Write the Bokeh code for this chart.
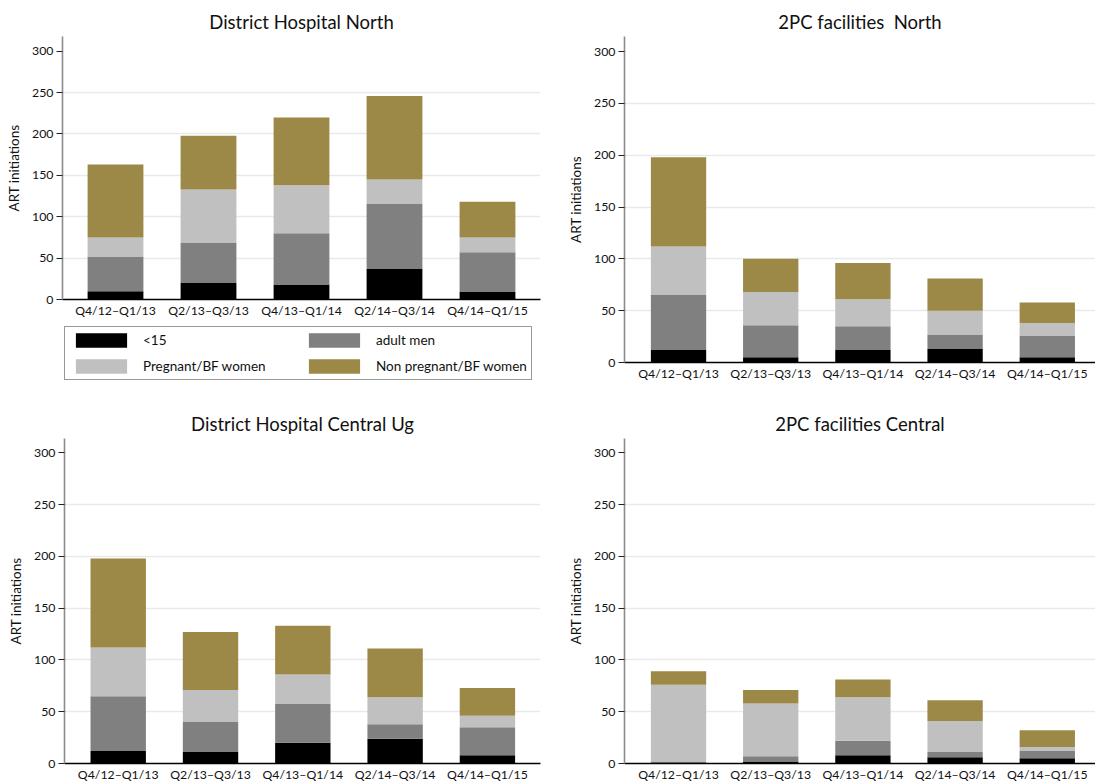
from bokeh.plotting import figure
from bokeh.models import ColumnDataSource, Range1d, FixedTicker, Legend, LegendItem
from bokeh.layouts import column, row
from bokeh.embed import file_html
from bokeh.resources import INLINE

# ---------------- data ----------------
periods = ["Q4/12\u2013Q1/13", "Q2/13\u2013Q3/13", "Q4/13\u2013Q1/14", "Q2/14\u2013Q3/14", "Q4/14\u2013Q1/15"]
groups = ["<15", "adult men", "Pregnant/BF women", "Non pregnant/BF women"]
colors = ["#000000", "#808080", "#c0c0c0", "#9c8847"]

y_ticks = [0, 50, 100, 150, 200, 250, 300]

# District Hospital North
dhn_u15 = [10, 20, 18, 37, 9]
dhn_men = [42, 49, 62, 79, 48]
dhn_preg = [23, 64, 58, 29, 18]
dhn_nonpreg = [88, 65, 82, 101, 43]

# 2PC facilities North
pcn_u15 = [12, 5, 12, 13, 5]
pcn_men = [53, 31, 23, 14, 21]
pcn_preg = [47, 32, 26, 23, 12]
pcn_nonpreg = [86, 32, 35, 31, 20]

# District Hospital Central Ug
dhc_u15 = [12, 11, 20, 24, 8]
dhc_men = [53, 29, 38, 14, 27]
dhc_preg = [47, 31, 28, 26, 11]
dhc_nonpreg = [86, 56, 47, 47, 27]

# 2PC facilities Central
pcc_u15 = [0, 2, 8, 6, 5]
pcc_men = [2, 5, 14, 5, 7]
pcc_preg = [74, 51, 42, 30, 4]
pcc_nonpreg = [13, 13, 17, 20, 16]

FONT = "Lato"
TXT = "#111111"


def make_source(series):
    data = {"x": list(range(len(periods)))}
    for g, v in zip(groups, series):
        data[g] = v
    return ColumnDataSource(data)


def make_panel(title, src, width, height, borders, x_start, x_end, y_end):
    p = figure(width=width, height=height, title=title,
               x_range=Range1d(x_start, x_end), y_range=Range1d(0, y_end),
               output_backend="svg", toolbar_location=None)
    p.min_border_left, p.min_border_right, p.min_border_top, p.min_border_bottom = borders
    p.outline_line_color = None
    p.background_fill_color = "white"
    p.border_fill_color = "white"

    p.vbar_stack(groups, x="x", width=0.6, fill_color=colors, line_color=None, source=src)

    p.title.text_font = FONT
    p.title.text_font_size = "18.5px"
    p.title.text_font_style = "normal"
    p.title.text_color = TXT
    p.title.align = "center"
    p.title.standoff = 7

    xa = p.xaxis[0]
    xa.ticker = FixedTicker(ticks=src.data["x"])
    xa.major_label_overrides = {i: lab for i, lab in enumerate(periods)}
    xa.major_tick_out = 0
    xa.major_tick_in = 0
    xa.minor_tick_out = 0
    xa.minor_tick_in = 0
    xa.axis_line_color = "#000000"
    xa.axis_line_width = 1.3
    xa.major_label_text_font = FONT
    xa.major_label_text_font_size = "12.3px"
    xa.major_label_text_color = TXT
    xa.major_label_standoff = 3

    ya = p.yaxis[0]
    ya.ticker = FixedTicker(ticks=y_ticks)
    ya.axis_label = "ART initiations"
    ya.axis_label_text_font = FONT
    ya.axis_label_text_font_size = "13.5px"
    ya.axis_label_text_font_style = "normal"
    ya.axis_label_text_color = TXT
    ya.axis_label_standoff = 7
    ya.major_tick_out = 6
    ya.major_tick_in = 0
    ya.minor_tick_out = 0
    ya.minor_tick_in = 0
    ya.major_tick_line_color = "#222222"
    ya.major_tick_line_width = 1.2
    ya.axis_line_color = "#8c8c8c"
    ya.axis_line_width = 1.6
    ya.major_label_text_font = FONT
    ya.major_label_text_font_size = "12.3px"
    ya.major_label_text_color = TXT
    ya.major_label_standoff = 3

    p.xgrid.visible = False
    p.ygrid.ticker = FixedTicker(ticks=y_ticks[1:-1])
    p.ygrid.grid_line_color = "#e9e9e9"
    p.ygrid.grid_line_width = 1.3
    return p


src1 = make_source([dhn_u15, dhn_men, dhn_preg, dhn_nonpreg])
src2 = make_source([pcn_u15, pcn_men, pcn_preg, pcn_nonpreg])
src3 = make_source([dhc_u15, dhc_men, dhc_preg, dhc_nonpreg])
src4 = make_source([pcc_u15, pcc_men, pcc_preg, pcc_nonpreg])

p1 = make_panel("District Hospital North", src1, 560, 320, (62, 20, 36, 21), -0.57, 4.57, 317.8)
p2 = make_panel("2PC facilities\u00a0 North", src2, 535, 392, (64, 0, 36, 30), -0.586, 4.523, 314.5)
p3 = make_panel("District Hospital Central Ug", src3, 560, 392, (64, 20, 46, 20), -0.582, 4.575, 313.8)
p4 = make_panel("2PC facilities Central", src4, 535, 392, (64, 0, 46, 20), -0.586, 4.523, 313.8)

# legend strip below the first panel (key for the colours)
lg = figure(width=560, height=72, x_range=Range1d(0, 1), y_range=Range1d(0, 1),
            x_axis_location=None, y_axis_location=None,
            output_backend="svg", toolbar_location=None)
lg.min_border_left = lg.min_border_right = lg.min_border_top = lg.min_border_bottom = 0
lg.outline_line_color = None
lg.xgrid.visible = False
lg.ygrid.visible = False
key_rs = lg.vbar_stack(groups, x="x", width=0.6, fill_color=colors, line_color=None,
                       source=src1, visible=False)
items = [LegendItem(label=g, renderers=[r]) for g, r in zip(groups, key_rs)]
leg = Legend(items=items, location=(2, 12), orientation="horizontal", ncols=2,
             glyph_width=64, glyph_height=18, label_standoff=10,
             label_width=151, label_height=18, spacing=8, padding=4, margin=0,
             border_line_color="#333333", border_line_width=1,
             background_fill_color="white", background_fill_alpha=1.0,
             label_text_font=FONT, label_text_font_size="13.5px",
             label_text_color=TXT)
lg.add_layout(leg)

layout = column(row(column(p1, lg, spacing=0), p2, spacing=0), row(p3, p4, spacing=0), spacing=0)

open("out.html", "w").write(file_html(layout, INLINE))
